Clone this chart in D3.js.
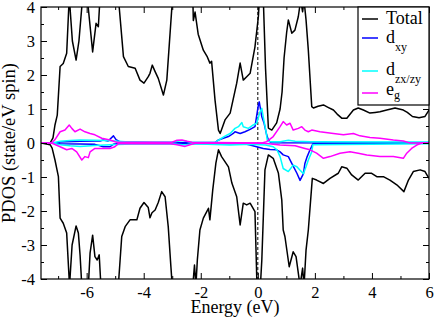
<!DOCTYPE html>
<html><head><meta charset="utf-8">
<script src="https://cdn.jsdelivr.net/npm/d3@7"></script>
<style>body{margin:0;background:#fff}svg{display:block} text{font-family:"Liberation Serif","Times New Roman","DejaVu Serif",serif;}</style>
</head><body>
<svg id="c" width="436" height="319"></svg>
<script>
// ---- data (energy eV, PDOS) ----
const xMajorTicks = [-6,-4,-2,0,2,4,6];
const yMajorTicks = [-4,-3,-2,-1,0,1,2,3,4];
const seriesNames = ["Total","d_xy","d_zx/zy","e_g"];

const totalUp = [[-7.6,0],[-7.28,0],[-7.18,0.15],[-7.11,0.53],[-7.03,0.82],[-6.93,2.25],[-6.82,2.34],[-6.70,2.64],[-6.61,4.3],[-6.5,3.0],[-6.37,2.44],[-6.27,3.0],[-6.14,4.3],[-5.97,4.2],[-5.79,2.68],[-5.67,3.52],[-5.59,3.42],[-5.53,4.3],[-4.89,4.3],[-4.71,2.54],[-4.54,2.25],[-4.30,2.2],[-4.13,1.85],[-3.99,1.76],[-3.84,1.95],[-3.78,2.05],[-3.70,2.29],[-3.60,2.1],[-3.49,1.9],[-3.31,1.41],[-3.19,1.85],[-3.02,3.9],[-2.97,4.3],[-2.28,4.3],[-2.26,3.6],[-2.20,3.85],[-2.09,3.2],[-1.91,2.73],[-1.78,2.55],[-1.68,2.35],[-1.62,2.4],[-1.50,1.26],[-1.38,0.38],[-1.32,0.28],[-1.15,0.68],[-0.97,0.88],[-0.74,1.76],[-0.62,2.35],[-0.51,1.85],[-0.39,1.95],[-0.27,2.05],[-0.10,2.83],[0.02,3.72],[0.06,4.3],[0.19,4.3],[0.27,2.2],[0.37,0.44],[0.49,0.38],[0.66,0.59],[0.78,1.0],[0.85,1.5],[0.92,2.5],[1.01,3.25],[1.07,3.62],[1.19,3.23],[1.30,3.32],[1.42,3.72],[1.50,4.2],[1.57,3.86],[1.62,4.2],[1.69,3.62],[1.77,2.73],[1.89,1.07],[1.95,1.03],[2.11,1.08],[2.30,1.12],[2.46,1.05],[2.65,0.97],[2.78,0.85],[2.94,0.73],[3.12,0.73],[3.35,0.97],[3.52,1.03],[3.70,0.97],[3.93,0.88],[4.11,0.9],[4.28,0.92],[4.52,0.97],[4.81,1.03],[5.10,0.97],[5.24,0.9],[5.42,0.78],[5.65,0.74],[5.86,0.78],[6.0,0.97]];

const totalDown = [[-7.6,0],[-7.28,-0.05],[-7.21,-0.15],[-7.11,-0.5],[-6.99,-0.99],[-6.93,-2.21],[-6.82,-2.36],[-6.70,-2.65],[-6.60,-4.2],[-6.51,-3.0],[-6.37,-2.44],[-6.29,-2.65],[-6.23,-3.3],[-6.17,-4.2],[-5.94,-4.2],[-5.88,-3.24],[-5.79,-2.71],[-5.71,-3.34],[-5.63,-3.44],[-5.56,-3.29],[-5.50,-4.2],[-4.89,-4.2],[-4.77,-2.75],[-4.65,-2.46],[-4.48,-2.26],[-4.24,-2.26],[-4.13,-1.92],[-3.99,-1.75],[-3.84,-1.9],[-3.78,-2.2],[-3.71,-2.05],[-3.60,-1.97],[-3.49,-1.75],[-3.37,-1.43],[-3.25,-1.58],[-3.14,-2.46],[-3.05,-3.6],[-3.0,-4.2],[-2.28,-4.2],[-2.22,-3.59],[-2.17,-4.2],[-2.12,-3.44],[-2.03,-2.56],[-1.91,-2.21],[-1.73,-1.92],[-1.68,-2.26],[-1.58,-1.38],[-1.47,-0.59],[-1.38,-0.2],[-1.27,-0.4],[-1.03,-0.7],[-0.91,-1.18],[-0.74,-1.58],[-0.62,-2.41],[-0.51,-1.77],[-0.39,-1.82],[-0.27,-1.77],[-0.10,-2.02],[-0.03,-4.2],[0.09,-4.2],[0.14,-3.44],[0.25,-0.79],[0.37,-0.35],[0.54,-0.45],[0.72,-0.88],[0.84,-1.68],[0.89,-2.56],[0.95,-2.75],[1.10,-3.64],[1.24,-3.2],[1.34,-3.34],[1.48,-4.2],[1.57,-3.68],[1.62,-4.2],[1.69,-3.15],[1.77,-2.56],[1.91,-1.04],[2.06,-1.09],[2.30,-1.19],[2.53,-1.04],[2.82,-0.89],[2.94,-0.7],[3.12,-0.74],[3.29,-0.94],[3.52,-1.09],[3.76,-0.89],[3.99,-0.89],[4.17,-0.99],[4.40,-0.99],[4.63,-1.09],[4.87,-1.23],[5.12,-1.43],[5.28,-1.09],[5.45,-0.84],[5.69,-0.79],[5.86,-0.84],[6.0,-1.04]];

const dxyUp = [[-7.6,0],[-7.1,0],[-6.93,0.03],[-6.23,0.05],[-5.71,0.06],[-5.53,0.06],[-5.42,0.09],[-5.25,0.06],[-5.06,0.21],[-4.97,0.1],[-4.83,0.03],[-3.07,0.01],[-1.50,0.01],[-1.38,0.09],[-1.21,0.14],[-1.03,0.19],[-0.86,0.28],[-0.80,0.33],[-0.62,0.28],[-0.45,0.33],[-0.27,0.4],[-0.10,0.48],[0.02,1.12],[0.05,1.21],[0.14,0.77],[0.22,0.58],[0.31,0.24],[0.37,0.09],[0.46,0.01],[6.0,0]];

const dxyDown = [[-7.6,0],[-7.1,0],[-6.93,-0.02],[-6.23,-0.03],[-5.71,-0.04],[-5.53,-0.08],[-5.42,-0.11],[-5.18,-0.11],[-5.07,-0.04],[-4.83,-0.01],[-0.45,-0.02],[-0.27,-0.06],[-0.04,-0.11],[0.19,-0.16],[0.43,-0.19],[0.66,-0.2],[0.78,-0.26],[0.89,-0.35],[1.07,-0.4],[1.19,-0.6],[1.37,-0.89],[1.48,-1.1],[1.60,-0.9],[1.65,-0.6],[1.73,-0.4],[1.83,-0.2],[1.89,-0.1],[1.93,-0.02],[6.0,0]];

const dzxUp = [[-7.6,0],[-7.2,0],[-6.93,0.05],[-6.58,0.07],[-6.23,0.09],[-5.71,0.08],[-5.36,0.07],[-5.01,0.06],[-4.65,0.04],[-4.13,0.03],[-3.78,0.02],[-2.90,0.04],[-2.66,0.07],[-2.38,0.03],[-1.50,0.02],[-1.27,0.14],[-1.15,0.2],[-0.97,0.28],[-0.80,0.43],[-0.68,0.48],[-0.56,0.6],[-0.51,0.48],[-0.33,0.43],[-0.16,0.53],[-0.04,0.58],[0.08,0.92],[0.14,1.02],[0.19,0.77],[0.29,0.33],[0.33,0.09],[0.40,0.04],[0.78,0.04],[1.07,0.08],[1.31,0.05],[1.83,0.04],[6.0,0.03]];

const dzxDown = [[-7.6,0],[-7.2,0],[-6.93,-0.05],[-6.58,-0.08],[-6.23,-0.1],[-5.71,-0.07],[-5.18,-0.05],[-4.65,-0.04],[-4.13,-0.02],[-2.90,-0.03],[-2.55,-0.06],[-2.30,-0.02],[-0.97,-0.06],[-0.27,-0.04],[0.27,-0.06],[0.54,-0.11],[0.67,-0.2],[0.78,-0.4],[0.89,-0.75],[1.07,-0.84],[1.24,-0.65],[1.37,-0.7],[1.48,-0.8],[1.60,-0.9],[1.69,-0.7],[1.77,-0.5],[1.89,-0.26],[1.93,-0.05],[6.0,-0.02]];

const egUp = [[-7.6,0],[-7.23,0],[-7.11,0.1],[-6.93,0.33],[-6.76,0.38],[-6.61,0.53],[-6.52,0.43],[-6.41,0.33],[-6.23,0.41],[-6.06,0.33],[-5.88,0.28],[-5.71,0.24],[-5.47,0.14],[-5.18,0.09],[-4.95,0.02],[-3.01,0.02],[-2.83,0.08],[-2.66,0.09],[-2.48,0.05],[-2.31,0.02],[0.15,0],[0.31,0.04],[0.54,0.19],[0.78,0.48],[0.89,0.63],[1.01,0.53],[1.13,0.58],[1.24,0.38],[1.42,0.43],[1.54,0.48],[1.65,0.38],[1.77,0.33],[1.89,0.38],[2.18,0.33],[2.65,0.28],[3.00,0.24],[3.35,0.28],[3.58,0.21],[3.93,0.16],[4.28,0.14],[4.75,0.09],[5.10,0.06],[5.33,0],[6.0,0]];

const egDown = [[-7.6,0],[-7.23,0],[-6.93,-0.11],[-6.70,-0.2],[-6.52,-0.16],[-6.35,-0.26],[-6.17,-0.5],[-6.06,-0.4],[-5.94,-0.43],[-5.88,-0.26],[-5.71,-0.16],[-5.42,-0.16],[-5.18,-0.16],[-5.01,-0.11],[-4.89,-0.02],[-3.07,-0.02],[-2.83,-0.05],[-2.55,-0.1],[-2.38,-0.05],[-2.2,-0.01],[0.15,0],[0.78,-0.06],[1.31,-0.08],[1.65,-0.16],[1.83,-0.2],[2.06,-0.3],[2.30,-0.45],[2.53,-0.4],[2.88,-0.3],[3.23,-0.26],[3.52,-0.3],[3.82,-0.35],[4.28,-0.4],[4.75,-0.4],[5.10,-0.45],[5.22,-0.3],[5.39,-0.16],[5.57,-0.06],[5.74,0],[6.0,0]];

// ---- drawing ----
const svg = d3.select("#c");
const L = 41, R = 429, T = 7, B = 279;
const x = d3.scaleLinear().domain([-7.6, 6]).range([L, R]);
const y = d3.scaleLinear().domain([-4, 4]).range([B, T]);
const serif = '"Liberation Serif","Times New Roman","DejaVu Serif",serif';

svg.append("defs").append("clipPath").attr("id","clip")
  .append("rect").attr("x",L).attr("y",T).attr("width",R-L).attr("height",B-T);

// Fermi level
svg.append("line").attr("x1",x(0)).attr("x2",x(0)).attr("y1",T).attr("y2",B)
  .attr("stroke","#000").attr("stroke-width",1).attr("stroke-dasharray","3,2");

const line = d3.line().x(d=>x(d[0])).y(d=>y(d[1]));
const g = svg.append("g").attr("clip-path","url(#clip)");
const sets = [
  [totalUp,"#000"],[totalDown,"#000"],
  [dxyUp,"#0000ff"],[dxyDown,"#0000ff"],
  [dzxUp,"#00ffff"],[dzxDown,"#00ffff"],
  [egUp,"#ff00ff"],[egDown,"#ff00ff"]
];
sets.forEach(([d,c])=>{
  g.append("path").datum(d).attr("d",line).attr("fill","none")
   .attr("stroke",c).attr("stroke-width",1.5).attr("stroke-linejoin","round");
});

// axes with inward ticks
const xMinor = d3.range(-7,7,1).filter(v=>!xMajorTicks.includes(v));
const yMinor = d3.range(-3.5,4,1);
function styleAxis(sel){
  sel.attr("font-family",null).attr("font-size",null);
  sel.select(".domain").remove();
  sel.selectAll("line").attr("stroke","#000").attr("stroke-width",1);
  return sel;
}
const fs = "16.5px";
styleAxis(svg.append("g").attr("transform",`translate(0,${B})`)
  .call(d3.axisBottom(x).tickValues(xMajorTicks).tickSize(-6).tickPadding(7).tickFormat(d=>String(d))))
  .selectAll("text").style("font-family",serif).style("font-size",fs).attr("fill","#000");
styleAxis(svg.append("g").attr("transform",`translate(0,${B})`)
  .call(d3.axisBottom(x).tickValues(xMinor).tickSize(-3).tickFormat("")));
styleAxis(svg.append("g").attr("transform",`translate(0,${T})`)
  .call(d3.axisTop(x).tickValues(xMajorTicks).tickSize(-6).tickFormat("")));
styleAxis(svg.append("g").attr("transform",`translate(0,${T})`)
  .call(d3.axisTop(x).tickValues(xMinor).tickSize(-3).tickFormat("")));
styleAxis(svg.append("g").attr("transform",`translate(${L},0)`)
  .call(d3.axisLeft(y).tickValues(yMajorTicks).tickSize(-6).tickPadding(6).tickFormat(d=>String(d))))
  .selectAll("text").style("font-family",serif).style("font-size",fs).attr("fill","#000");
styleAxis(svg.append("g").attr("transform",`translate(${L},0)`)
  .call(d3.axisLeft(y).tickValues(yMinor).tickSize(-3).tickFormat("")));
styleAxis(svg.append("g").attr("transform",`translate(${R},0)`)
  .call(d3.axisRight(y).tickValues(yMajorTicks).tickSize(-6).tickFormat("")));
styleAxis(svg.append("g").attr("transform",`translate(${R},0)`)
  .call(d3.axisRight(y).tickValues(yMinor).tickSize(-3).tickFormat("")));

// frame
svg.append("rect").attr("x",L).attr("y",T).attr("width",R-L).attr("height",B-T)
  .attr("fill","none").attr("stroke","#000").attr("stroke-width",1.2);

// axis titles
svg.append("text").attr("x",(L+R)/2).attr("y",313).attr("text-anchor","middle")
  .style("font-family",serif).style("font-size","18px").text("Energy (eV)");
svg.append("text").attr("transform",`translate(15,${(T+B)/2}) rotate(-90)`).attr("text-anchor","middle")
  .style("font-family",serif).style("font-size","18.5px").text("PDOS (state/eV spin)");

// legend
const lg = svg.append("g");
lg.append("rect").attr("x",358).attr("y",T).attr("width",R-358).attr("height",105-T)
  .attr("fill","#fff").attr("stroke","#000").attr("stroke-width",1.2);
const legendRows = [
  {name:seriesNames[0], c:"#000", ly:19, main:"Total", sub:null, by:24, sdy:0},
  {name:seriesNames[1], c:"#0000ff", ly:38, main:"d", sub:"xy", by:43, sdy:8},
  {name:seriesNames[2], c:"#00ffff", ly:71, main:"d", sub:"zx/zy", by:75, sdy:8},
  {name:seriesNames[3], c:"#ff00ff", ly:93, main:"e", sub:"g", by:95, sdy:4}
];
legendRows.forEach(r=>{
  lg.append("line").attr("x1",362).attr("x2",378).attr("y1",r.ly).attr("y2",r.ly)
    .attr("stroke",r.c).attr("stroke-width",1.5);
  const t = lg.append("text").attr("x",386).attr("y",r.by)
    .style("font-family",serif).style("font-size","18px").text(r.main);
  if (r.sub) t.append("tspan").attr("dy",r.sdy).style("font-size","12px").text(r.sub);
});
</script>
</body></html>
